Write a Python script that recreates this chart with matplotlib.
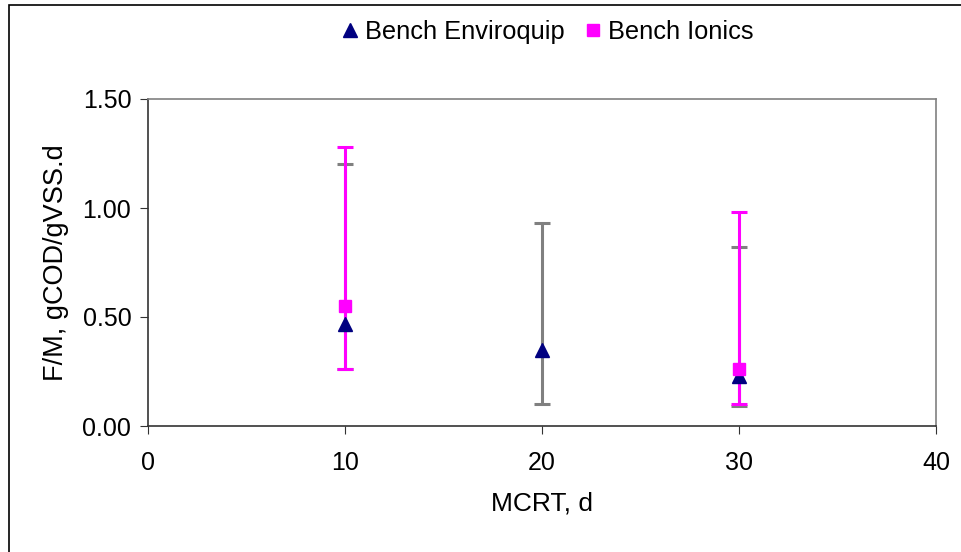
import matplotlib
matplotlib.use("Agg")
import matplotlib.pyplot as plt
from matplotlib.patches import Rectangle

plt.rcParams['font.family'] = ['Liberation Sans', 'DejaVu Sans']

# Bench Enviroquip
enviro_x = [10, 20, 30]
enviro_y = [0.47, 0.35, 0.23]
enviro_hi = [1.20, 0.93, 0.82]
enviro_lo = [0.26, 0.10, 0.09]

# Bench Ionics
ionics_x = [10, 30]
ionics_y = [0.55, 0.26]
ionics_hi = [1.28, 0.98]
ionics_lo = [0.26, 0.10]

x_ticks = [0, 10, 20, 30, 40]
y_ticks = [0.0, 0.5, 1.0, 1.5]

fig = plt.figure(figsize=(9.62, 5.52), dpi=100)
ax = fig.add_axes([148 / 962, 1 - 426 / 552, (936 - 148) / 962, (426 - 99) / 552])

# outer chart border
fig.patches.append(Rectangle((9 / 962, -0.1), 1.2, (552 - 5) / 552 + 0.1,
                             transform=fig.transFigure, fill=False,
                             edgecolor='black', linewidth=1.2))

e_err = [[y - l for y, l in zip(enviro_y, enviro_lo)],
         [h - y for y, h in zip(enviro_y, enviro_hi)]]
i_err = [[y - l for y, l in zip(ionics_y, ionics_lo)],
         [h - y for y, h in zip(ionics_y, ionics_hi)]]

ax.errorbar(enviro_x, enviro_y, yerr=e_err, fmt='none', ecolor='#808080',
            elinewidth=2.2, capsize=5.5, capthick=2.2, zorder=2)
ax.errorbar(ionics_x, ionics_y, yerr=i_err, fmt='none', ecolor='#ff00ff',
            elinewidth=2.2, capsize=5.5, capthick=2.2, zorder=3)
ax.plot(enviro_x, enviro_y, linestyle='none', marker='^', color='#000080',
        markersize=9.5, label='Bench Enviroquip', zorder=4)
ax.plot(ionics_x, ionics_y, linestyle='none', marker='s', color='#ff00ff',
        markersize=8, label='Bench Ionics', zorder=5)

ax.set_xlim(0, 40)
ax.set_ylim(0, 1.5)
ax.set_xticks(x_ticks)
ax.set_yticks(y_ticks)
ax.set_yticklabels([f'{v:.2f}' for v in y_ticks])
ax.tick_params(direction='out', length=6, labelsize=18, colors='#333333',
               labelcolor='black')
ax.tick_params(axis='x', pad=12)
ax.tick_params(axis='y', pad=6)
ax.spines['left'].set_color('#333333')
ax.spines['bottom'].set_color('#333333')
ax.spines['top'].set_color('#808080')
ax.spines['right'].set_color('#808080')
for s in ax.spines.values():
    s.set_linewidth(1.2)

ax.set_xlabel('MCRT, d', fontsize=19, labelpad=12)
ax.set_ylabel('F/M, gCOD/gVSS.d', fontsize=19.5, labelpad=10)

fig.legend(loc='center', bbox_to_anchor=(0.567, 1 - 32 / 552), ncol=2,
           frameon=False, fontsize=18.3, handletextpad=0.1, columnspacing=0.6,
           handlelength=1.0)

fig.savefig('out.png', dpi=100)
